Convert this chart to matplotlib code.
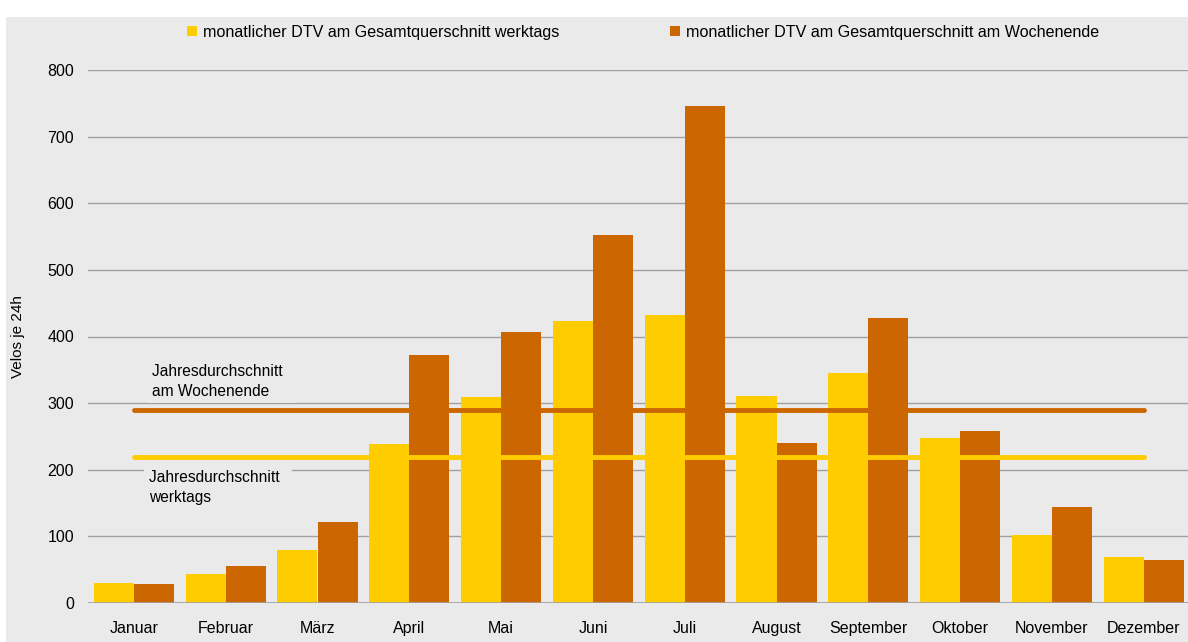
import matplotlib
matplotlib.use("Agg")
import matplotlib.pyplot as plt
from matplotlib.patches import Rectangle, Patch
import numpy as np

months = ["Januar", "Februar", "März", "April", "Mai", "Juni", "Juli",
          "August", "September", "Oktober", "November", "Dezember"]
werktags = [30, 44, 80, 239, 309, 423, 432, 311, 345, 248, 102, 69]
wochenende = [29, 56, 122, 372, 407, 552, 746, 240, 428, 258, 144, 65]
mean_werktags = 219
mean_wochenende = 290
yticks = [0, 100, 200, 300, 400, 500, 600, 700, 800]

label_w = "monatlicher DTV am Gesamtquerschnitt werktags"
label_we = "monatlicher DTV am Gesamtquerschnitt am Wochenende"

YELLOW = "#FFCC00"
ORANGE = "#CC6600"
BG = "#EAEAEA"
GRID = "#A0A0A0"

plt.rcParams['font.family'] = ['Liberation Sans', 'DejaVu Sans']
W, H = 1188, 642
fig = plt.figure(figsize=(W/100, H/100), dpi=100)
fig.patch.set_facecolor("white")
fig.patches.append(Rectangle((6/W, 0), (W-6)/W, (642-17)/H, transform=fig.transFigure,
                             facecolor=BG, edgecolor="none", zorder=-10))

ax = fig.add_axes([88/W, 39/H, 1100/W, 533/H])
ax.set_facecolor("none")
x = np.arange(len(months))
bw = 0.436
ax.bar(x - bw/2, werktags, width=bw, color=YELLOW, zorder=2, label=label_w)
ax.bar(x + bw/2, wochenende, width=bw, color=ORANGE, zorder=2, label=label_we)

ax.plot([x[0], x[-1]], [mean_wochenende]*2, color=ORANGE, lw=3.5, solid_capstyle="round", zorder=3)
ax.plot([x[0], x[-1]], [mean_werktags]*2, color=YELLOW, lw=3.5, solid_capstyle="round", zorder=3)

ax.set_xlim(-0.5, -0.5 + 1100/91.8)
ax.set_ylim(0, 800)
ax.set_yticks(yticks)
ax.set_xticks(x)
ax.set_xticklabels(months)
ax.tick_params(axis="both", length=0, labelsize=11.5, colors="#000000")
ax.tick_params(axis="x", pad=13)
ax.tick_params(axis="y", pad=10)
ax.yaxis.grid(True, color=GRID, lw=1, zorder=0)
for s in ax.spines.values():
    s.set_visible(False)
ax.axhline(0, color=GRID, lw=1.2, zorder=4)
ax.set_ylabel("Velos je 24h", fontsize=11)
ax.yaxis.set_label_coords(-63/1100, 0.5)

ax.text(0.2, 332, "Jahresdurchschnitt  \nam Wochenende", fontsize=11.2, va="center", ha="left",
        linespacing=1.4, zorder=5,
        bbox=dict(facecolor=BG, edgecolor="none", pad=3))
ax.text(0.16, 173, "Jahresdurchschnitt  \nwerktags", fontsize=11.2, va="center", ha="left",
        linespacing=1.4, zorder=5,
        bbox=dict(facecolor=BG, edgecolor="none", pad=3))

handles = [Patch(facecolor=YELLOW, edgecolor="none"), Patch(facecolor=ORANGE, edgecolor="none")]
fig.legend(handles, [label_w, label_we], loc="center", bbox_to_anchor=(643/W, 1 - 32/H),
           ncol=2, frameon=False, fontsize=11.6, handlelength=0.6, handleheight=0.6,
           handletextpad=0.35, columnspacing=6.9)

fig.savefig("out.png", dpi=100, facecolor=fig.get_facecolor())
